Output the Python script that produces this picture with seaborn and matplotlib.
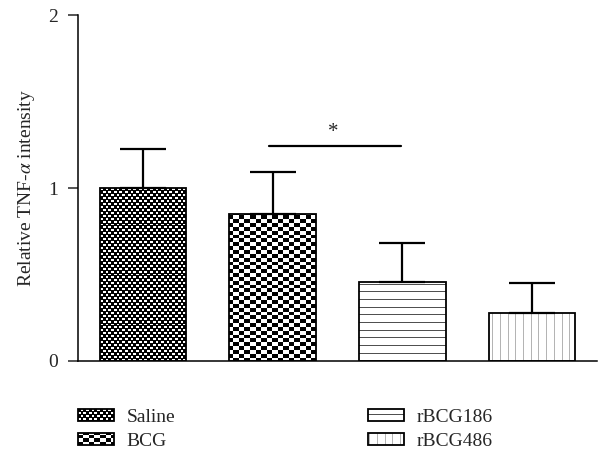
import warnings
import numpy as np
import pandas as pd
import seaborn as sns
import matplotlib
matplotlib.use("Agg")
import matplotlib.pyplot as plt
import matplotlib.patches as mpatches
import matplotlib.hatch as mhatch
from matplotlib.colors import to_rgba
from matplotlib.path import Path

warnings.filterwarnings("ignore")

# %% Data
groups = ["Saline", "BCG", "rBCG186", "rBCG486"]
means = [1.00, 0.85, 0.455, 0.28]
errs = [0.225, 0.245, 0.228, 0.172]
sig_pair = ("BCG", "rBCG186")
sig_y = 1.243

# fill style per group: hatch code, hatch colour
hatches = ["c", "k", "h", "v"]
hatch_colors = ["black", "black", "#505050", "#b4b4b4"]

TILE = 100  # hatch tile in pixels (= dpi for the Agg backend)


def edges(n):
    # pixel aligned cell edges across one hatch tile
    return [round(i * TILE / n) for i in range(n + 1)]


# %% Custom pixel-aligned hatches (checkerboards + thin lines)
class PixelHatch(mhatch.HatchPatternBase):
    def __init__(self, hatch, density):
        r = []
        if "c" in hatch:  # fine checker, black with small white dashes
            xe, ye = edges(36), edges(34)
            for j in range(34):
                ya, yb = ye[j], ye[j + 1]
                r.append((0, ya, TILE, ya + max(1, yb - ya - 2)))
                for i in range(36):
                    if (i + j) % 2 == 0:
                        r.append((xe[i], ya, xe[i + 1], yb))
        if "k" in hatch:  # coarse checker
            xe, ye = edges(18), edges(26)
            for j in range(26):
                for i in range(18):
                    if (i + j) % 2 == 0:
                        r.append((xe[i], ye[j], xe[i + 1], ye[j + 1]))
        if "h" in hatch:  # horizontal lines
            for y in edges(13)[:-1]:
                r.append((0, y, TILE, y + 1))
        if "v" in hatch:  # vertical lines
            for x in edges(13)[:-1]:
                r.append((x, 0, x + 1, TILE))
        self.rects = [tuple(v / TILE for v in q) for q in r]
        self.num_vertices = 5 * len(self.rects)

    def set_vertices_and_codes(self, vertices, codes):
        for k, (x0, y0, x1, y1) in enumerate(self.rects):
            vertices[5 * k:5 * k + 5] = [(x0, y0), (x1, y0), (x1, y1), (x0, y1), (x0, y0)]
            codes[5 * k:5 * k + 5] = [Path.MOVETO, Path.LINETO, Path.LINETO,
                                      Path.LINETO, Path.CLOSEPOLY]


mhatch._hatch_types.append(PixelHatch)

# %% Style
sns.set_style("ticks")
plt.rcParams["font.family"] = ["Liberation Serif", "DejaVu Serif"]
plt.rcParams["mathtext.fontset"] = "stix"
plt.rcParams["hatch.linewidth"] = 0.0
plt.rcParams["font.size"] = 14

df = pd.DataFrame({"group": groups, "mean": means, "err": errs})

fig = plt.figure(figsize=(6, 4.61), dpi=100)
ax = fig.add_axes([0.13, 0.217, 0.865, 0.75])

sns.barplot(data=df, x="group", y="mean", order=groups, color="white",
            edgecolor="black", linewidth=1.3, width=0.665, errorbar=None,
            saturation=1, ax=ax, zorder=2)

for p, h, hc in zip(ax.patches, hatches, hatch_colors):
    p.set_hatch(h)
    p._hatch_color = to_rgba(hc)

# upper-only error bars
xpos = np.arange(len(groups))
ax.errorbar(xpos, df["mean"], yerr=[np.zeros(len(groups)), df["err"]],
            fmt="none", ecolor="black", elinewidth=1.6, capsize=16.5,
            capthick=1.6, zorder=3)

# significance bracket
x1, x2 = groups.index(sig_pair[0]), groups.index(sig_pair[1])
ax.plot([x1 - 0.03, x2 - 0.01], [sig_y, sig_y], color="black", lw=1.6)
ax.text((x1 + x2) / 2 - 0.03, sig_y + 0.025, "*", ha="center", va="bottom",
        fontsize=15)

# %% Axes
ax.set_ylim(0, 2)
ax.set_xlim(-0.5, len(groups) - 0.5)
ax.set_yticks([0, 1, 2])
ax.set_xticks([])
ax.set_xlabel("")
ax.set_ylabel(r"Relative TNF-$\alpha$ intensity", fontsize=14, labelpad=8)
ax.tick_params(axis="y", length=7.5, width=1.1, pad=7, labelsize=14,
               direction="out")
for side in ["top", "right"]:
    ax.spines[side].set_visible(False)
for side in ["left", "bottom"]:
    ax.spines[side].set_linewidth(1.1)
    ax.spines[side].set_color("black")

# %% Legend
handles = []
for g, h, hc in zip(groups, hatches, hatch_colors):
    ph = mpatches.Patch(facecolor="white", edgecolor="black", hatch=h,
                        linewidth=1.3, label=g)
    ph._hatch_color = to_rgba(hc)
    handles.append(ph)

fig.legend(handles=handles, loc="upper left", bbox_to_anchor=(0.13, 0.113),
           ncol=2, frameon=False, fontsize=14, handlelength=1.85,
           handleheight=0.55, handletextpad=0.65, columnspacing=9.9,
           labelspacing=0.36, borderpad=0, borderaxespad=0)

plt.savefig("out.png", dpi=100)
